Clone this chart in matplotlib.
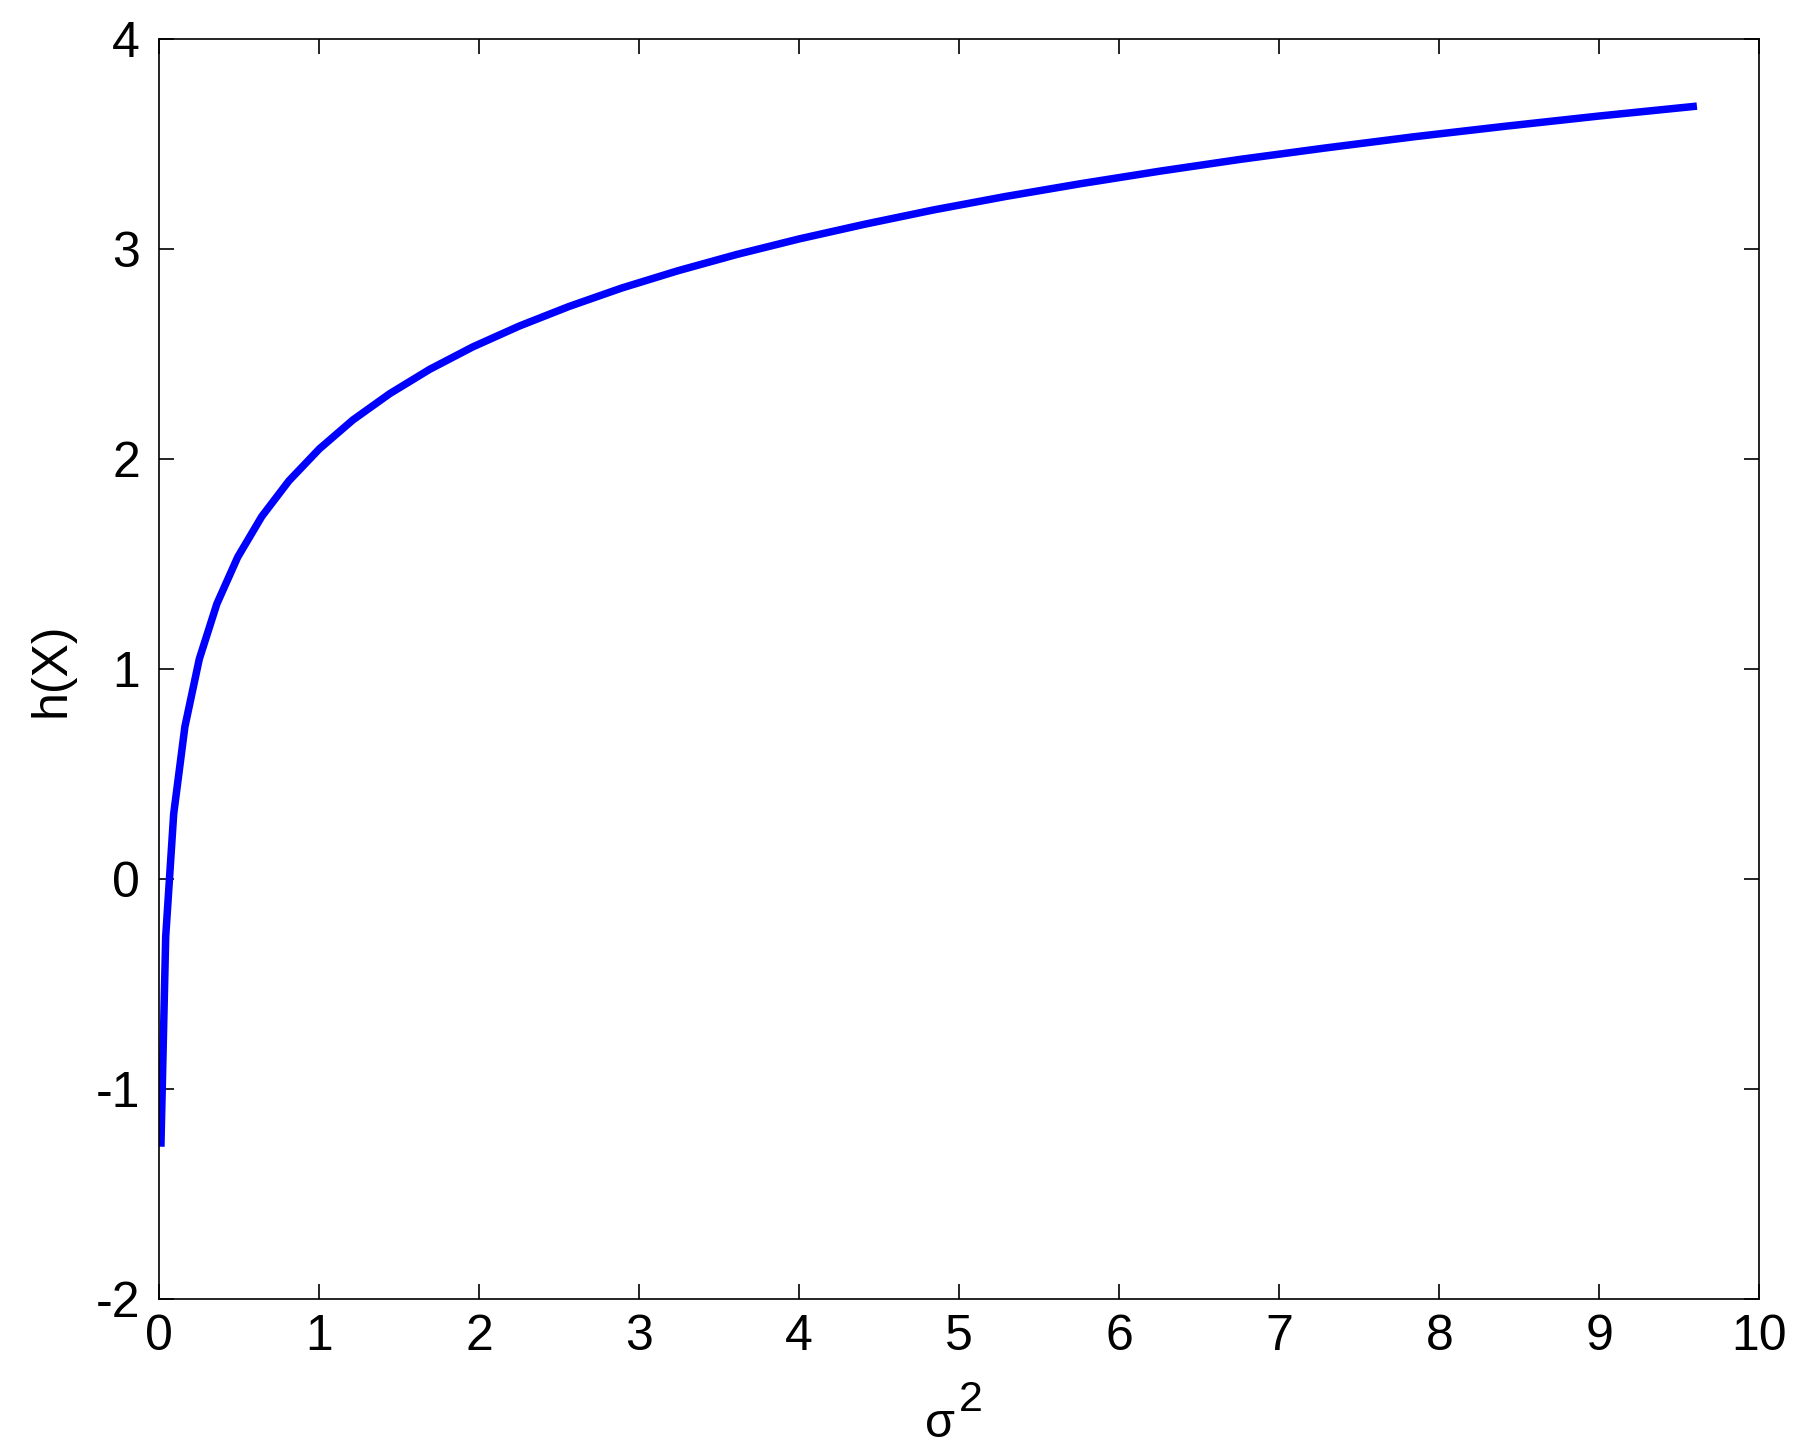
import matplotlib
matplotlib.use("Agg")
import matplotlib.pyplot as plt

plt.rcParams['font.family'] = ['Liberation Sans', 'DejaVu Sans']
plt.rcParams['mathtext.default'] = 'regular'

sigma2 = [0.01, 0.04, 0.09, 0.16, 0.25, 0.36, 0.49, 0.64, 0.81, 1.00,
          1.21, 1.44, 1.69, 1.96, 2.25, 2.56, 2.89, 3.24, 3.61, 4.00,
          4.41, 4.84, 5.29, 5.76, 6.25, 6.76, 7.29, 7.84, 8.41, 9.00, 9.61]
hX = [-1.275, -0.275, 0.310, 0.725, 1.047, 1.310, 1.532, 1.725, 1.895, 2.047,
      2.185, 2.310, 2.426, 2.533, 2.632, 2.725, 2.813, 2.895, 2.973, 3.047,
      3.117, 3.185, 3.249, 3.310, 3.369, 3.426, 3.480, 3.533, 3.583, 3.632, 3.679]
xticks = [0, 1, 2, 3, 4, 5, 6, 7, 8, 9, 10]
yticks = [-2, -1, 0, 1, 2, 3, 4]

W, H = 1800, 1455
fig = plt.figure(figsize=(18, 14.55), dpi=100)
ax = fig.add_axes([0.0885, 0.1072, 0.9774 - 0.0885, 0.9734 - 0.1072])
ax.plot(sigma2, hX, color='#0000ff', lw=5.4, solid_capstyle='butt')
ax.set_xlim(0, 10)
ax.set_ylim(-2, 4)
ax.set_xticks(xticks)
ax.set_yticks(yticks)
ax.set_xticklabels([str(t) for t in xticks])
ax.set_yticklabels([str(t) for t in yticks])
ax.tick_params(direction='in', length=11, width=1.2, labelsize=36,
               top=True, right=True, colors='black')
ax.tick_params(axis='x', pad=11)
ax.tick_params(axis='y', pad=14)
for s in ax.spines.values():
    s.set_linewidth(1.2)

# x label: sigma with a large superscript 2
fig.text(940 / W, 1 - 1437 / H, 'σ', fontsize=35, ha='center', va='baseline')
fig.text(971 / W, 1 - 1411 / H, '2', fontsize=31, ha='center', va='baseline')
# y label
fig.text(52 / W, 1 - 670 / H, 'h(X)', fontsize=36, rotation=90,
         ha='center', va='center')
fig.savefig('out.png', dpi=100, facecolor='white')
